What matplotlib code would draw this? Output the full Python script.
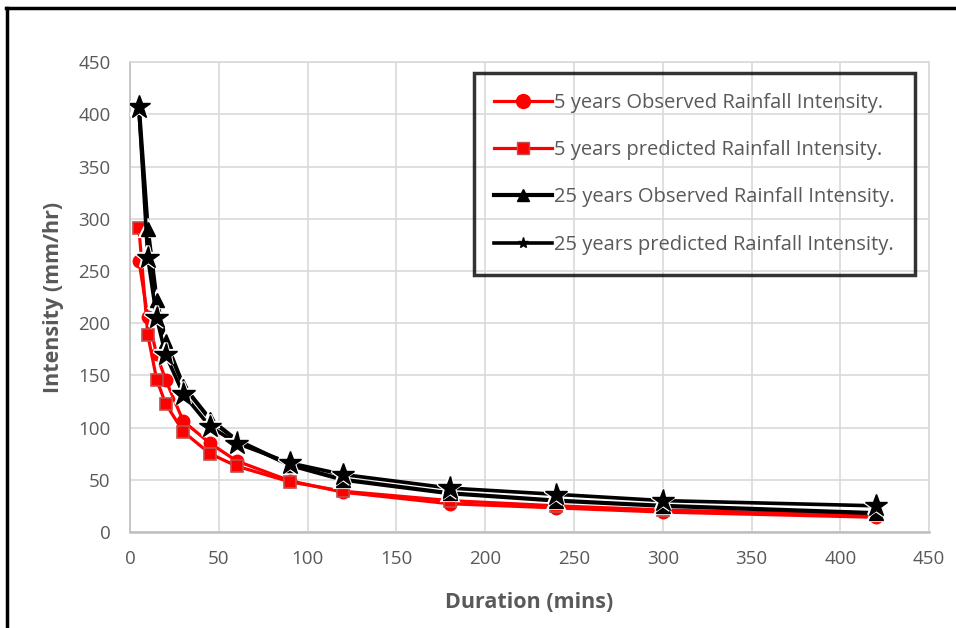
import numpy as np
import matplotlib
matplotlib.use("Agg")
from matplotlib import pyplot as plt
from matplotlib import patheffects as pe
from matplotlib.lines import Line2D

plt.rcParams['font.family'] = ['Open Sans', 'DejaVu Sans']

duration = [5, 10, 15, 20, 30, 45, 60, 90, 120, 180, 240, 300, 420]
obs_5 = [260, 206, 170, 146, 106, 85, 68, 49, 38, 27, 23, 19, 14]
pred_5 = [291, 189, 146, 123, 96, 75, 63, 48, 39, 30, 25, 21, 16]
obs_25 = [407, 290, 222, 183, 140, 108, 88, 64, 50, 37, 30, 25, 18]
pred_25 = [407, 263, 205, 170, 132, 101, 85, 66, 55, 42, 36, 30, 25]

labels = ["5 years Observed Rainfall Intensity.",
          "5 years predicted Rainfall Intensity.",
          "25 years Observed Rainfall Intensity.",
          "25 years predicted Rainfall Intensity."]

grey = "#595959"

fig = plt.figure(figsize=(9.56, 6.28), dpi=100)
ax = fig.add_axes([0.136, 0.153, 0.836, 0.748])

halo = [pe.withStroke(linewidth=3, foreground="white")]

ax.plot(duration, obs_5, color="red", lw=2.3, marker="o", ms=9,
        mfc="red", mec="red", zorder=3)
ax.plot(duration, pred_5, color="red", lw=2.3, marker="s", ms=8.5,
        mfc="red", mec="#c0504d", mew=1.2, zorder=3)
ax.plot(duration, obs_25, color="black", lw=3, zorder=4)
ax.plot(duration, obs_25, ls="none", marker="^", ms=10, color="black",
        zorder=4, path_effects=halo)
ax.plot(duration, pred_25, color="black", lw=2.6, zorder=5)
ax.plot(duration, pred_25, ls="none", marker="*", ms=17, color="black",
        zorder=5, path_effects=halo)

ax.set_xlim(0, 450)
ax.set_ylim(0, 450)
ax.set_xticks(np.arange(0, 451, 50))
ax.set_yticks(np.arange(0, 451, 50))
ax.grid(True, color="#d9d9d9", lw=1.2)
ax.set_axisbelow(True)
ax.tick_params(length=0, labelsize=13.5, labelcolor=grey)
ax.tick_params(axis="y", pad=14)
ax.tick_params(axis="x", pad=13)
for s in ["top", "right"]:
    ax.spines[s].set_color("#d9d9d9")
    ax.spines[s].set_linewidth(1.2)
ax.spines["left"].set_color("#bfbfbf")
ax.spines["left"].set_linewidth(1.2)
ax.spines["bottom"].set_color("#bfbfbf")
ax.spines["bottom"].set_linewidth(1.8)

ax.set_xlabel("Duration (mins)", fontsize=15.5, fontweight="bold", color=grey, labelpad=17)
ax.set_ylabel("Intensity (mm/hr)", fontsize=15.5, fontweight="bold", color=grey, labelpad=10)

handles = [
    Line2D([], [], color="red", lw=2.3, marker="o", ms=10),
    Line2D([], [], color="red", lw=2.3, marker="s", ms=8, mec="#c0504d"),
    Line2D([], [], color="black", lw=3, marker="^", ms=9),
    Line2D([], [], color="black", lw=2.6, marker="*", ms=8),
]
leg = ax.legend(handles, labels, loc="upper right", bbox_to_anchor=(0.982, 0.977),
                fontsize=14.5, labelspacing=1.35, handlelength=2.9, handletextpad=0.1,
                borderpad=1.0, borderaxespad=0, fancybox=False, edgecolor="black")
leg.get_frame().set_facecolor("none")
leg.get_frame().set_linewidth(2.5)
for t in leg.get_texts():
    t.set_color(grey)

# picture border on top and left
fig.add_artist(Line2D([0.006, 1.0], [0.987, 0.987], color="black", lw=2.5))
fig.add_artist(Line2D([0.007, 0.007], [0.0, 0.988], color="black", lw=2.5))

fig.savefig("out.png", dpi=100)
